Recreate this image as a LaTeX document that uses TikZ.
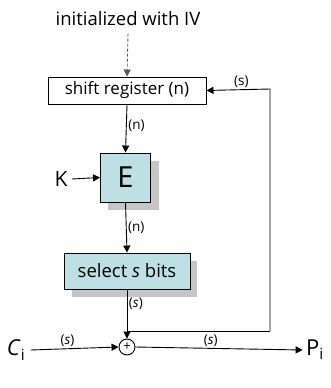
\documentclass[tikz,border=0pt]{standalone}
\usepackage{fontspec}
\setmainfont{Open Sans}
\usetikzlibrary{arrows.meta,calc}
\definecolor{boxfill}{HTML}{BDE0E4}
\begin{document}
\begin{tikzpicture}[x=1pt,y=-1pt,
  box/.style={draw,line width=0.9pt,inner sep=0pt,anchor=center},
  arr/.style={-{Triangle[length=7pt,width=7pt]},line width=0.9pt},
  lbl/.style={font=\fontsize{13.5}{14}\selectfont,inner sep=1.5pt}]
\useasboundingbox (0,0) rectangle (330,388);
% text at top
\node[font=\fontsize{18.5}{20}\selectfont] (iv) at (128,19) {initialized with IV};
% shift register
\node[box,fill=white,minimum width=158pt,minimum height=27pt,font=\fontsize{17}{18}\selectfont] (sr) at (127,90.5) {shift register (n)};
% E box with shadow
\fill[gray!45] (108,161) rectangle (159,210);
\node[box,fill=boxfill,minimum width=50pt,minimum height=49pt,font=\fontsize{29}{30}\selectfont] (enc) at (125.5,177.5) {E};
\node[font=\fontsize{21}{24}\selectfont] (k) at (61,179) {K};
% select box with shadow
\fill[gray!45] (72,261) rectangle (197,297);
\node[box,fill=boxfill,minimum width=126pt,minimum height=36pt,font=\fontsize{18.5}{20}\selectfont] (sel) at (127,271) {select \textit{s} bits};
% xor
\node[draw,circle,line width=0.9pt,minimum size=16pt,inner sep=0pt,font=\fontsize{13}{13}\selectfont] (x) at (127,347) {+};
\node[font=\fontsize{22}{24}\selectfont,anchor=center] (c) at (16,350) {\textit{C}\textsubscript{i}};
\node[font=\fontsize{22}{24}\selectfont,anchor=center] (p) at (315,350) {P\textsubscript{i}};
\coordinate (fa) at (270,331);
\coordinate (fb) at (270,89);
\coordinate (fj) at (127,331);
% connectors
\draw[arr,dashed,gray!70!black,dash pattern=on 3pt off 2pt] (iv.south) ++(0,4) -- (sr.north);
\draw[arr] (sr.south) -- node[lbl,right,pos=0.45] {(n)} (enc.north);
\draw[arr] (k.east) ++(1,0) -- (enc.west);
\draw[arr] (enc.south) -- node[lbl,right,pos=0.5] {(n)} (sel.north);
\draw[arr] (sel.south) -- node[lbl,right,pos=0.3] {(\textit{s})} (x.north);
\draw[line width=0.9pt] (fj) -- (fa);
\draw[arr] (fa) -- (fb) -- node[lbl,above,pos=0.45] {(s)} (sr.east);
\draw[arr] (c.east) ++(2,0) -- node[lbl,above,pos=0.42] {(\textit{s})} (x.west);
\draw[arr] (x.east) -- node[lbl,above,pos=0.45] {(\textit{s})} (p.west);
\end{tikzpicture}
\end{document}
